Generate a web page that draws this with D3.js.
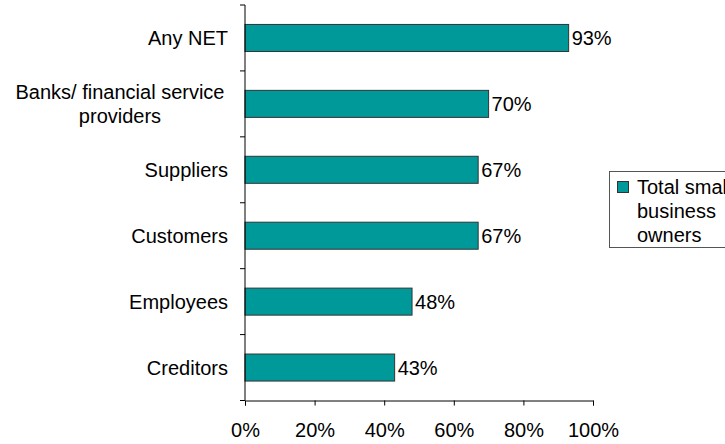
<!DOCTYPE html>
<html>
<head>
<meta charset="utf-8">
<script src="https://cdn.jsdelivr.net/npm/d3@7"></script>
<style>
  html, body { margin: 0; padding: 0; background: #fff; }
  text { font-family: "Liberation Sans", Arial, sans-serif; fill: #000; }
</style>
</head>
<body>
<svg id="chart" width="725" height="444"></svg>
<script>
const categories = ["Any NET", "Banks/ financial service providers", "Suppliers", "Customers", "Employees", "Creditors"];
const categoryLines = [["Any NET"], ["Banks/ financial service", "providers"], ["Suppliers"], ["Customers"], ["Employees"], ["Creditors"]];
const values = [93, 70, 67, 67, 48, 43];
const xTicks = [0, 20, 40, 60, 80, 100];
const seriesName = ["Total small", "business", "owners"];

const svg = d3.select("#chart");
const plotLeft = 245, plotRight = 593, plotTop = 5, plotBottom = 400.5;
const barColor = "#009999";
const fontSize = 20;

const x = d3.scaleLinear().domain([0, 100]).range([plotLeft, plotRight]);
const y = d3.scaleBand().domain(categories).range([plotTop, plotBottom]).paddingInner(0.59).paddingOuter(0.295);

// bars
svg.append("g").selectAll("rect").data(categories).join("rect")
  .attr("x", x(0))
  .attr("y", d => y(d))
  .attr("width", (d, i) => x(values[i]) - x(0))
  .attr("height", y.bandwidth())
  .attr("fill", barColor)
  .attr("stroke", "#333")
  .attr("stroke-width", 1);

// value labels
svg.append("g").selectAll("text").data(categories).join("text")
  .attr("x", (d, i) => x(values[i]) + 3)
  .attr("y", d => y(d) + y.bandwidth() / 2 + 7)
  .attr("font-size", fontSize)
  .text((d, i) => values[i] + "%");

// category axis with ticks between bands
const step = (plotBottom - plotTop) / categories.length;
const cat = svg.append("g");
cat.append("line").attr("x1", plotLeft).attr("x2", plotLeft).attr("y1", plotTop).attr("y2", plotBottom)
  .attr("stroke", "#000").attr("stroke-width", 1);
d3.range(categories.length + 1).forEach(i => {
  cat.append("line").attr("x1", plotLeft - 5).attr("x2", plotLeft)
    .attr("y1", plotTop + i * step).attr("y2", plotTop + i * step)
    .attr("stroke", "#000");
});
categories.forEach((c, i) => {
  const lines = categoryLines[i];
  const cy = y(c) + y.bandwidth() / 2;
  const lh = 24;
  const t = cat.append("text")
    .attr("text-anchor", lines.length > 1 ? "middle" : "end")
    .attr("font-size", fontSize);
  lines.forEach((ln, j) => {
    t.append("tspan")
      .attr("x", lines.length > 1 ? 120 : 228)
      .attr("y", cy + (j - (lines.length - 1) / 2) * lh + 7)
      .text(ln);
  });
});

// value axis
const xAxis = d3.axisBottom(x).tickValues(xTicks).tickFormat(d => d + "%").tickSizeOuter(0).tickSize(5);
const gx = svg.append("g").attr("transform", `translate(0,${plotBottom})`).call(xAxis);
gx.select(".domain").attr("stroke", "#000");
gx.selectAll(".tick line").attr("stroke", "#000");
gx.selectAll(".tick text").attr("font-size", fontSize).attr("font-family", "Liberation Sans, Arial, sans-serif")
  .attr("y", 36.5).attr("dy", 0).attr("fill", "#000");

// legend
const lg = svg.append("g");
lg.append("rect").attr("x", 609.5).attr("y", 171.5).attr("width", 130).attr("height", 76)
  .attr("fill", "#fff").attr("stroke", "#555");
lg.append("rect").attr("x", 617.5).attr("y", 181.5).attr("width", 11).attr("height", 11)
  .attr("fill", barColor).attr("stroke", "#333");
seriesName.forEach((s, i) => {
  lg.append("text").attr("x", 637).attr("y", 193.5 + i * 24)
    .attr("font-size", fontSize).text(s);
});
</script>
</body>
</html>
